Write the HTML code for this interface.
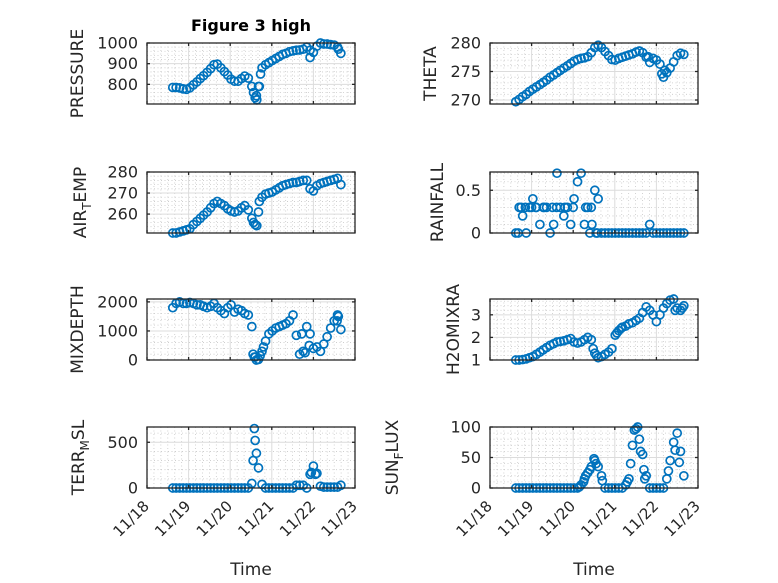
<!DOCTYPE html>
<html><head><meta charset="utf-8"><style>
html,body{margin:0;padding:0;background:#fff;}
svg{display:block;font-family:"DejaVu Sans","Liberation Sans",sans-serif;}
</style></head><body>
<svg id="fig" width="778" height="583" viewBox="0 0 778 583" xmlns="http://www.w3.org/2000/svg">
<rect x="0" y="0" width="778" height="583" fill="#fff"/>
<text x="251" y="31" text-anchor="middle" font-size="16" font-weight="bold" fill="#000">Figure 3 high</text>
</svg>
<script>
const xTickLabels = ["11/18","11/19","11/20","11/21","11/22","11/23"];
const days = [0.62,0.70,0.785,0.87,0.95,1.03,1.115,1.2,1.28,1.36,1.445,1.53,1.61,1.69,1.775,1.86,1.94,2.02,2.105,2.19,2.27,2.35,2.435,2.52,2.6,2.68,2.765,2.85,2.93,3.01,3.095,3.18,3.26,3.34,3.425,3.51,3.59,3.67,3.755,3.84,3.92,4.0,4.085,4.17,4.25,4.33,4.415,4.5,4.58,4.66];

const pressure = [785,785,783,778,776,783,798,812,828,842,858,876,895,898,880,862,845,825,815,815,828,840,830,790,735,790,880,895,905,915,925,935,945,950,958,962,965,966,970,980,930,955,985,1000,995,995,992,990,980,950];
const pressureExtraT = [2.56,2.63,2.64,2.70,2.73,3.92,4.60];
const pressureExtraV = [760,745,725,790,850,965,970];

const airTemp = [251,251,251.5,252,252.5,253,255,256.5,258,259.5,261,263,265,266,265,264,262.5,261.5,261,261.5,263,264,262,258,255,261,268,269.5,270,270.5,271.5,272.5,273.5,274,274.5,275,275,275.5,276,276,272,271,273.5,274.5,275,275.5,276,276.5,277,274];
const airTempExtraT = [2.56,2.64,2.70];
const airTempExtraV = [256,254.5,266];

const theta = [269.7,270.1,270.6,271,271.5,271.9,272.3,272.7,273.1,273.5,274,274.4,274.8,275.2,275.6,276,276.4,276.8,277.1,277.3,277.4,277.6,278.3,279.2,279.6,279.2,278.5,277.8,277.1,277,277.3,277.5,277.7,277.9,278.1,278.4,278.6,278.3,277.5,276.6,277.3,277,276.3,274,274.8,275.6,276.7,277.8,278.2,278];
const thetaExtraT = [3.8,4.13,4.2];
const thetaExtraV = [277.6,274.6,275.2];

const rainfall = [0,0.3,0.2,0,0.3,0.4,0.3,0.1,0.3,0.3,0,0.1,0.7,0.3,0.2,0.3,0.1,0.4,0.6,0.7,0.1,0.3,0.3,0.5,0.4,0,0,0,0,0,0,0,0,0,0,0,0,0,0,0.1,0,0,0,0,0,0,0,0,0,0];
const rainfallExtraT = [0.68,0.75,0.85,1.0,1.1,1.3,1.5,1.6,1.8,2.0,2.3,2.4,2.45,2.55,2.58];
const rainfallExtraV = [0,0.3,0.3,0.3,0.3,0.3,0.3,0.3,0.3,0.3,0.3,0,0.1,0,0];

const mixDepth = [1800,1950,2000,1950,1950,1980,1950,1900,1900,1850,1800,1850,1950,1800,1700,1600,1800,1900,1650,1750,1700,1600,1550,1150,100,20,300,650,900,1000,1100,1150,1200,1250,1350,1550,850,200,300,1150,900,400,450,300,550,800,1100,1350,1550,1050];
const mixDepthExtraT = [2.55,2.58,2.63,2.72,2.8,3.72,3.8,3.9,4.57,4.6];
const mixDepthExtraV = [200,100,0,150,450,900,250,500,1350,1500];

const h2oMix = [1,1,1.02,1.05,1.1,1.15,1.25,1.35,1.45,1.55,1.65,1.72,1.8,1.82,1.85,1.9,1.95,1.8,1.75,1.8,1.9,2.0,1.9,1.3,1.1,1.15,1.25,1.35,1.5,2.1,2.3,2.45,2.5,2.6,2.65,2.75,2.85,3.1,3.35,3.2,3.0,2.7,3.0,3.3,3.5,3.65,3.7,3.3,3.2,3.4];
const h2oMixExtraT = [2.48,2.56,3.05,3.15,4.45,4.62];
const h2oMixExtraV = [1.5,1.2,2.2,2.4,3.2,3.3];

const terrMsl = [0,0,0,0,0,0,0,0,0,0,0,0,0,0,0,0,0,0,0,0,0,0,0,50,520,220,40,0,0,0,0,0,0,0,0,0,30,30,30,0,150,240,160,20,10,10,10,10,10,30];
const terrMslExtraT = [2.55,2.58,2.63,3.95,4.05];
const terrMslExtraV = [300,650,380,170,150];

const sunFlux = [0,0,0,0,0,0,0,0,0,0,0,0,0,0,0,0,0,0,0,5,15,25,35,45,35,20,0,0,0,0,0,0,5,15,70,97,80,55,20,0,0,0,0,0,15,45,75,90,60,20];
const sunFluxExtraT = [2.15,2.25,2.3,2.4,2.5,2.55,2.7,3.3,3.38,3.47,3.55,3.62,3.7,3.72,4.29,4.45,4.55];
const sunFluxExtraV = [2,10,20,30,48,40,12,10,40,95,100,60,30,15,28,62,42];

const NS = "http://www.w3.org/2000/svg";
const svg = document.getElementById('fig');
function mk(tag, attrs, parent){
  const e = document.createElementNS(NS, tag);
  for (const k in attrs) e.setAttribute(k, attrs[k]);
  (parent||svg).appendChild(e);
  return e;
}
const panels = [
  {key:'pressure', vals:pressure, exT:pressureExtraT, exV:pressureExtraV, x0:147, y0:43, lo:705, hi:1000, ticks:[800,900,1000], labels:['800','900','1000'], minor:20, lab:['PRESSURE'], lx:77, bottom:false},
  {key:'theta', vals:theta, exT:thetaExtraT, exV:thetaExtraV, x0:490, y0:43, lo:269.3, hi:280, ticks:[270,275,280], labels:['270','275','280'], minor:1, lab:['THETA'], lx:430, bottom:false},
  {key:'air-temp', vals:airTemp, exT:airTempExtraT, exV:airTempExtraV, x0:147, y0:172, lo:251, hi:280, ticks:[260,270,280], labels:['260','270','280'], minor:2, lab:['AIR','T','EMP'], lx:80, bottom:false},
  {key:'rainfall', vals:rainfall, exT:rainfallExtraT, exV:rainfallExtraV, x0:490, y0:172, lo:0, hi:0.714, ticks:[0,0.5], labels:['0','0.5'], minor:0.1, lab:['RAINFALL'], lx:437, bottom:false},
  {key:'mixdepth', vals:mixDepth, exT:mixDepthExtraT, exV:mixDepthExtraV, x0:147, y0:299, lo:0, hi:2100, ticks:[0,1000,2000], labels:['0','1000','2000'], minor:200, lab:['MIXDEPTH'], lx:77, bottom:false},
  {key:'h2omixra', vals:h2oMix, exT:h2oMixExtraT, exV:h2oMixExtraV, x0:490, y0:299, lo:1, hi:3.7, ticks:[1,2,3], labels:['1','2','3'], minor:0.2, lab:['H2OMIXRA'], lx:453, bottom:false},
  {key:'terr-msl', vals:terrMsl, exT:terrMslExtraT, exV:terrMslExtraV, x0:147, y0:427, lo:0, hi:667, ticks:[0,500], labels:['0','500'], minor:100, lab:['TERR','M','SL'], lx:78, bottom:true},
  {key:'sun-flux', vals:sunFlux, exT:sunFluxExtraT, exV:sunFluxExtraV, x0:490, y0:427, lo:0, hi:100, ticks:[0,50,100], labels:['0','50','100'], minor:10, lab:['SUN','F','LUX'], lx:392, bottom:true}
];
const W = 208, H = 61, nDays = 5;
panels.forEach(p => {
  const g = mk('g', {});
  
  
  const xs = t => p.x0 + t / nDays * W;
  const ys = v => p.y0 + H - (v - p.lo) / (p.hi - p.lo) * H;
  mk('rect', {x:p.x0, y:p.y0, width:W, height:H, fill:'#fff'}, g);
  for (let d = 0; d < nDays; d++) for (let k = 1; k < 6; k++) {
    const x = xs(d + k/6);
    mk('line', {x1:x, x2:x, y1:p.y0, y2:p.y0+H, stroke:'#c8c8c8', 'stroke-width':0.8, 'stroke-dasharray':'1 2.5'}, g);
  }
  const first = Math.ceil(p.lo / p.minor) * p.minor;
  for (let v = first; v <= p.hi + 1e-9; v += p.minor) {
    if (p.ticks.some(t => Math.abs(t - v) < 1e-6)) continue;
    const y = ys(v);
    mk('line', {x1:p.x0, x2:p.x0+W, y1:y, y2:y, stroke:'#c8c8c8', 'stroke-width':0.8, 'stroke-dasharray':'1 2.5'}, g);
  }
  for (let d = 1; d < nDays; d++) {
    const x = xs(d);
    mk('line', {x1:x, x2:x, y1:p.y0, y2:p.y0+H, stroke:'#dcdcdc', 'stroke-width':1}, g);
  }
  p.ticks.forEach(v => {
    const y = ys(v);
    mk('line', {x1:p.x0, x2:p.x0+W, y1:y, y2:y, stroke:'#dcdcdc', 'stroke-width':1}, g);
  });
  const sg = mk('g', {fill:'none', stroke:'#0072BD', 'stroke-width':1.7}, g);
  
  
  const pts = [];
  p.vals.forEach((v, i) => pts.push([days[i], v]));
  p.exT.forEach((t, i) => pts.push([t, p.exV[i]]));
  pts.forEach(pt => {
    const c = mk('circle', {cx:xs(pt[0]).toFixed(2), cy:ys(pt[1]).toFixed(2), r:4}, sg);
    
    
  });
  mk('rect', {x:p.x0, y:p.y0, width:W, height:H, fill:'none', stroke:'#262626', 'stroke-width':1.3}, g);
  for (let d = 0; d <= nDays; d++) {
    const x = xs(d);
    mk('line', {x1:x, x2:x, y1:p.y0+H, y2:p.y0+H-3, stroke:'#262626', 'stroke-width':1.3}, g);
    mk('line', {x1:x, x2:x, y1:p.y0, y2:p.y0+3, stroke:'#262626', 'stroke-width':1.3}, g);
    if (p.bottom) {
      const tx = x + 3, ty = p.y0 + H + 19;
      const t = mk('text', {x:tx, y:ty, 'text-anchor':'end', 'font-size':15, fill:'#262626', transform:`rotate(-45 ${tx} ${ty})`}, g);
      t.textContent = xTickLabels[d];
      
      
    }
  }
  p.ticks.forEach((v, i) => {
    const y = ys(v);
    mk('line', {x1:p.x0, x2:p.x0+3, y1:y, y2:y, stroke:'#262626', 'stroke-width':1.3}, g);
    mk('line', {x1:p.x0+W, x2:p.x0+W-3, y1:y, y2:y, stroke:'#262626', 'stroke-width':1.3}, g);
    const t = mk('text', {x:p.x0-9, y:y+5.5, 'text-anchor':'end', 'font-size':16, fill:'#262626'}, g);
    t.textContent = p.labels[i];
    
    
  });
  const cy = p.y0 + H/2;
  const yl = mk('text', {x:p.lx, y:cy, 'text-anchor':'middle', 'font-size':17, fill:'#262626', transform:`rotate(-90 ${p.lx} ${cy}) translate(0 6)`}, g);
  
  
  if (p.lab.length === 1) yl.textContent = p.lab[0];
  else {
    const a = mk('tspan', {}, yl); a.textContent = p.lab[0];
    const b = mk('tspan', {dy:5, 'font-size':12}, yl); b.textContent = p.lab[1];
    const c = mk('tspan', {dy:-5}, yl); c.textContent = p.lab[2];
  }
  if (p.bottom) {
    const xt = mk('text', {x:p.x0 + W/2, y:575, 'text-anchor':'middle', 'font-size':17, fill:'#262626'}, g);
    xt.textContent = 'Time';
    
    
  }
});
</script>
</body></html>
